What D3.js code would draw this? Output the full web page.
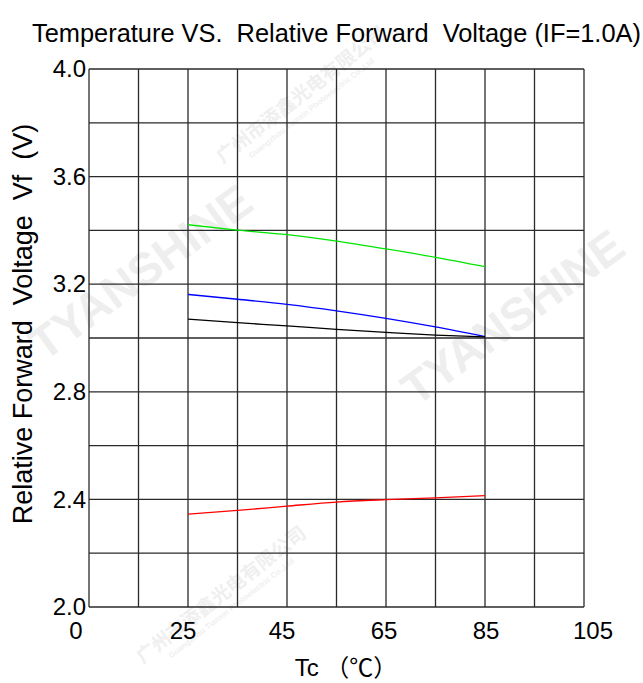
<!DOCTYPE html>
<html>
<head>
<meta charset="utf-8">
<script src="https://cdn.jsdelivr.net/npm/d3@7"></script>
<style>
  body { margin: 0; background: #fff; }
  svg { display: block; }
  text { font-family: Arial, "Liberation Sans", sans-serif; fill: #000; }
</style>
</head>
<body>
<script>
// temperature points (Tc, degC)
var tempC = [25, 35, 45, 55, 65, 75, 85];

// relative forward voltage (V) for each curve
var greenVf = [3.421, 3.401, 3.384, 3.360, 3.331, 3.300, 3.265];
var blueVf  = [3.162, 3.144, 3.125, 3.101, 3.073, 3.041, 3.005];
var blackVf = [3.070, 3.057, 3.045, 3.032, 3.021, 3.011, 3.004];
var redVf   = [2.345, 2.359, 2.375, 2.390, 2.399, 2.406, 2.414];

var xTicks = [5, 25, 45, 65, 85, 105];
var xTickLabels = ["0", "25", "45", "65", "85", "105"];
var yTicks = [2.0, 2.4, 2.8, 3.2, 3.6, 4.0];

var width = 643, height = 683;
var plotL = 89, plotR = 584, plotT = 69, plotB = 607;

var svg = d3.select("body").append("svg")
    .attr("width", width)
    .attr("height", height);

var x = d3.scaleLinear().domain([5, 105]).range([plotL, plotR]);
var y = d3.scaleLinear().domain([2.0, 4.0]).range([plotB, plotT]);

// faint watermarks
var wm = svg.append("g").style("pointer-events", "none");
function brand(cx, cy, ang) {
  wm.append("text")
    .attr("transform", "translate(" + cx + "," + cy + ") rotate(" + ang + ")")
    .attr("text-anchor", "middle")
    .style("font-size", "46px")
    .style("font-weight", "bold")
    .style("fill", "#eeeeee")
    .text("TYANSHINE");
}
function company(cx, cy, ang) {
  var g = wm.append("g")
    .attr("transform", "translate(" + cx + "," + cy + ") rotate(" + ang + ")");
  g.append("text")
    .attr("text-anchor", "middle")
    .style("font-family", "'Noto Sans CJK SC'")
    .style("font-size", "19px")
    .style("font-weight", "bold")
    .style("fill", "#efefef")
    .text("广州市添鑫光电有限公司");
  g.append("text")
    .attr("y", 13)
    .attr("text-anchor", "middle")
    .style("font-size", "8px")
    .style("font-weight", "bold")
    .style("fill", "#efefef")
    .text("Guangzhou Tianxin Photoelectric Co.,Ltd");
}
brand(150, 285, -36);
brand(522, 330, -36);
company(305, 100, -38);
company(225, 600, -38);

// grid
var grid = svg.append("g")
    .style("stroke", "#2a2a2a")
    .style("stroke-width", 1.3);

grid.selectAll(".vx")
    .data(d3.range(5, 106, 10))
    .enter().append("line")
    .attr("x1", function(d) { return x(d); })
    .attr("x2", function(d) { return x(d); })
    .attr("y1", y(2.0))
    .attr("y2", y(4.0));

grid.selectAll(".hy")
    .data(d3.range(0, 11).map(function(i) { return 2.0 + i * 0.2; }))
    .enter().append("line")
    .attr("y1", function(d) { return y(d); })
    .attr("y2", function(d) { return y(d); })
    .attr("x1", x(5))
    .attr("x2", x(105));

// curves
var series = [
  {vals: greenVf, color: "#00e600"},
  {vals: blueVf,  color: "#0000ff"},
  {vals: blackVf, color: "#000000"},
  {vals: redVf,   color: "#ff0000"}
];

var line = d3.line()
    .x(function(d) { return x(d[0]); })
    .y(function(d) { return y(d[1]); })
    .curve(d3.curveMonotoneX);

svg.selectAll(".curve")
    .data(series)
    .enter().append("path")
    .attr("class", "curve")
    .attr("d", function(s) { return line(d3.zip(tempC, s.vals)); })
    .style("fill", "none")
    .style("stroke", function(s) { return s.color; })
    .style("stroke-width", 1.3);

// y tick labels
svg.selectAll(".ylab")
    .data(yTicks)
    .enter().append("text")
    .attr("x", plotL - 3)
    .attr("y", function(d) { return y(d); })
    .attr("dy", "0.34em")
    .attr("text-anchor", "end")
    .style("font-size", "24px")
    .text(function(d) { return d.toFixed(1); });

// x tick labels (the original nudges them a bit)
var xNudge = [-13, -5, -5, -2, 1, 9];
svg.selectAll(".xlab")
    .data(xTicks)
    .enter().append("text")
    .attr("x", function(d, i) { return x(d) + xNudge[i]; })
    .attr("y", 639)
    .attr("text-anchor", "middle")
    .style("font-size", "24px")
    .text(function(d, i) { return xTickLabels[i]; });

// titles
svg.append("text")
    .attr("x", 32)
    .attr("y", 42)
    .style("font-size", "25.4px")
    .style("white-space", "pre")
    .text("Temperature VS.  Relative Forward  Voltage (IF=1.0A)");

svg.append("text")
    .attr("transform", "translate(32,324) rotate(-90)")
    .attr("text-anchor", "middle")
    .style("font-size", "27px")
    .style("white-space", "pre")
    .text("Relative Forward  Voltage  Vf  (V)");

var xt = svg.append("text")
    .attr("x", 346)
    .attr("y", 676)
    .attr("text-anchor", "middle")
    .style("font-size", "24px")
    .style("white-space", "pre");
xt.append("tspan").text("Tc ");
xt.append("tspan").style("font-family", "'Noto Sans CJK SC'").text("（℃）");
</script>
</body>
</html>
